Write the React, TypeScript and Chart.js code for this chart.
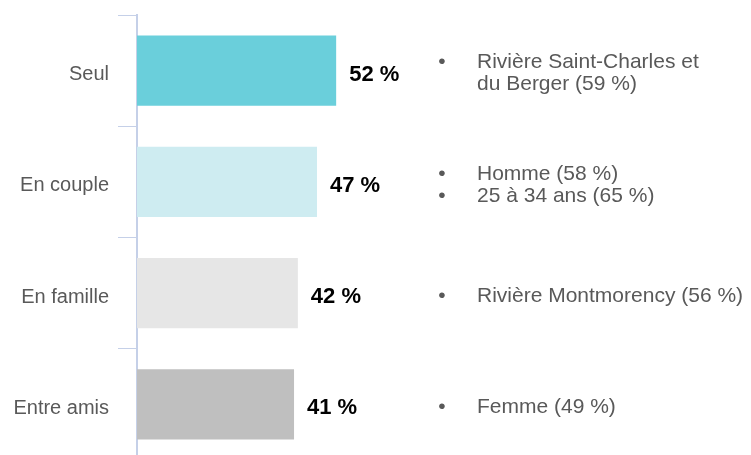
import React, { useEffect, useRef } from "react";
import { Chart, registerables } from "chart.js";

Chart.register(...registerables);

const categories = ["Seul", "En couple", "En famille", "Entre amis"];
const values = [52, 47, 42, 41];
const barColors = ["#6ACFDB", "#CEECF1", "#E6E6E6", "#BFBFBF"];
// Each category: list of bullet items, each item a list of lines
const notes: string[][][] = [
  [["Rivière Saint-Charles et", "du Berger (59 %)"]],
  [["Homme (58 %)"], ["25 à 34 ans (65 %)"]],
  [["Rivière Montmorency (56 %)"]],
  [["Femme (49 %)"]],
];

const FONT = "'Liberation Sans', Arial, sans-serif";

const annotationPlugin = {
  id: "annotations",
  afterDatasetsDraw(chart: any) {
    const ctx = chart.ctx;
    const meta = chart.getDatasetMeta(0);
    const yScale = chart.scales.y;
    ctx.save();
    // value labels
    ctx.font = `bold 22px ${FONT}`;
    ctx.fillStyle = "#000000";
    ctx.textAlign = "left";
    ctx.textBaseline = "middle";
    meta.data.forEach((bar: any, i: number) => {
      ctx.fillText(`${values[i]} %`, bar.x + 13, bar.y + 4);
    });
    // notes
    ctx.font = `21px ${FONT}`;
    ctx.fillStyle = "#595959";
    const lineH = 22;
    notes.forEach((items, i) => {
      const lines: { text: string; bullet: boolean }[] = [];
      items.forEach((item) =>
        item.forEach((t, k) => lines.push({ text: t, bullet: k === 0 }))
      );
      const cy = yScale.getPixelForValue(i) + 3;
      const startY = cy - ((lines.length - 1) * lineH) / 2;
      lines.forEach((ln, k) => {
        const y = startY + k * lineH;
        if (ln.bullet) {
          ctx.textAlign = "center";
          ctx.fillText("•", 442, y);
        }
        ctx.textAlign = "left";
        ctx.fillText(ln.text, 477, y);
      });
    });
    ctx.restore();
  },
};

export default function App() {
  const ref = useRef<HTMLCanvasElement>(null);
  useEffect(() => {
    if (!ref.current) return;
    const chart = new Chart(ref.current, {
      type: "bar",
      data: {
        labels: categories,
        datasets: [
          {
            data: values,
            backgroundColor: barColors,
            borderWidth: 0,
            barPercentage: 0.63,
            categoryPercentage: 1,
          },
        ],
      },
      options: {
        indexAxis: "y",
        animation: false,
        responsive: false,
        maintainAspectRatio: false,
        layout: { padding: { top: 15, bottom: 0, left: 0, right: 231 } },
        plugins: { legend: { display: false }, tooltip: { enabled: false } },
        scales: {
          x: { display: false, min: 0, max: 100 },
          y: {
            afterFit(scale: any) {
              scale.width = 137;
              scale.paddingTop = 0;
              scale.paddingBottom = 0;
            },
            grid: {
              drawOnChartArea: false,
              drawTicks: true,
              tickLength: 19,
              color: "#C5D0E8",
              lineWidth: 1,
              offset: true,
            },
            border: { display: true, color: "#C5D0E8", width: 2 },
            ticks: {
              padding: 9,
              labelOffset: 4,
              color: "#595959",
              font: { family: FONT, size: 20 },
            },
          },
        },
      },
      plugins: [annotationPlugin],
    });
    return () => chart.destroy();
  }, []);
  return (
    <div
      style={{
        position: "fixed",
        left: 0,
        top: 0,
        width: 751,
        height: 455,
        overflow: "hidden",
        background: "#ffffff",
      }}
    >
      <canvas ref={ref} width={751} height={460} style={{ display: "block" }} />
    </div>
  );
}
